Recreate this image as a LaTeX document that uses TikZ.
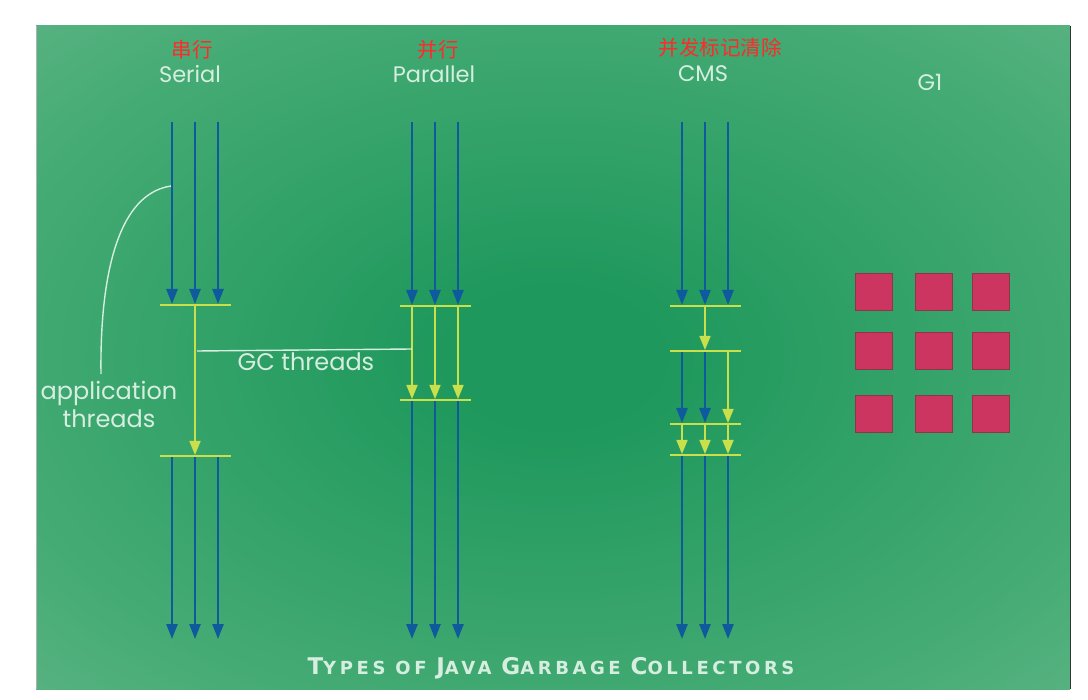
\documentclass[tikz,border=0pt]{standalone}
\usepackage{fontspec}
\setmainfont{Poppins}
\newfontfamily\cjk{Noto Sans CJK SC}
\newfontfamily\capsfont[LetterSpace=20]{DejaVu Sans}
\usetikzlibrary{arrows.meta}
\definecolor{bgin}{HTML}{1E985C}
\definecolor{bgmid}{HTML}{45AB74}
\definecolor{bgout}{HTML}{65B88B}
\definecolor{appblue}{HTML}{0E5A9C}
\definecolor{gcyel}{HTML}{C9E04C}
\definecolor{lbl}{HTML}{D6EEDF}
\definecolor{sq}{HTML}{CC3560}
\definecolor{sqb}{HTML}{8E3548}
\definecolor{cnred}{HTML}{FF2A2A}
\pgfdeclareradialshading{bgshade}{\pgfpoint{0bp}{0bp}}{color(0bp)=(bgin); color(5bp)=(bgin); color(28bp)=(bgmid); color(42bp)=(bgout); color(71bp)=(bgout)}
\tikzset{
  appth/.style={draw=appblue, line width=2.4pt, -{Triangle[width=11pt,length=15pt]}},
  gcth/.style={draw=gcyel, line width=1.6pt, -{Triangle[width=11pt,length=14pt]}},
  gcbar/.style={draw=gcyel, line width=1.8pt},
  title/.style={text=lbl, font=\fontsize{22.5}{22.5}\selectfont},
  cn/.style={text=cnred, font=\cjk\fontsize{20.5}{20.5}\selectfont},
  note/.style={text=lbl, font=\fontsize{24}{28}\selectfont, align=center},
  region/.style={draw=sqb, line width=1pt, fill=sq, minimum width=37pt, minimum height=37pt, inner sep=0pt},
  pointer/.style={draw=lbl, line width=1.4pt}
}
\begin{document}
\begin{tikzpicture}[x=1pt,y=-1pt]
\useasboundingbox (0,0) rectangle (1088,700);
\fill[white] (0,0) rectangle (1088,700);
\shade[shading=bgshade] (36,26) rectangle (1070,689);
\draw[black!80, line width=1pt] (1070,26) -- (1070,689);
\draw[gray!60, line width=0.8pt] (36,26) -- (36,689);

% titles
\node[cn] (cnserial) at (192,50) {串行};
\node[cn] (cnpar) at (438,50) {并行};
\node[cn] (cncms) at (720,48) {并发标记清除};
\node[title] (serial) at (190,74) {Serial};
\node[title] (parallel) at (434,74) {Parallel};
\node[title] (cms) at (703,74) {CMS};
\node[title] (g1) at (930,82) {G1};

% ---------- Serial ----------
\foreach \x/\n in {172/a,195/b,218/c}{
  \coordinate (s\n0) at (\x,122);
  \coordinate (s\n1) at (\x,304);
  \coordinate (s\n2) at (\x,456);
  \coordinate (s\n3) at (\x,639);
  \draw[appth] (s\n0) -- (s\n1);
  \draw[appth] (s\n2) -- (s\n3);
}
\coordinate (sbar1l) at (160,305); \coordinate (sbar1r) at (231,305);
\coordinate (sbar2l) at (160,456); \coordinate (sbar2r) at (231,456);
\coordinate (sgc1) at (195,305); \coordinate (sgc2) at (195,455);
\draw[gcbar] (sbar1l) -- (sbar1r);
\draw[gcbar] (sbar2l) -- (sbar2r);
\draw[gcth] (sgc1) -- (sgc2);

% ---------- Parallel ----------
\foreach \x/\n in {412/a,435/b,458/c}{
  \coordinate (p\n0) at (\x,122);
  \coordinate (p\n1) at (\x,305);
  \coordinate (p\n2) at (\x,399);
  \coordinate (p\n3) at (\x,639);
  \draw[appth] (p\n0) -- (p\n1);
  \draw[gcth] (p\n1) -- (p\n2);
  \draw[appth] (p\n2) -- (p\n3);
}
\coordinate (pbar1l) at (400,306); \coordinate (pbar1r) at (471,306);
\coordinate (pbar2l) at (400,400); \coordinate (pbar2r) at (471,400);
\draw[gcbar] (pbar1l) -- (pbar1r);
\draw[gcbar] (pbar2l) -- (pbar2r);

% ---------- CMS ----------
\foreach \x/\n in {682/a,705/b,728/c}{
  \coordinate (c\n0) at (\x,122);
  \coordinate (c\n1) at (\x,305);
  \coordinate (c\n2) at (\x,350);
  \coordinate (c\n3) at (\x,423);
  \coordinate (c\n4) at (\x,454);
  \coordinate (c\n5) at (\x,639);
  \draw[appth] (c\n0) -- (c\n1);
  \draw[gcth] (c\n3) -- (c\n4);
  \draw[appth] (c\n4) -- (c\n5);
}
\draw[gcth] (cb1) -- (cb2);
\draw[appth] (ca2) -- (ca3);
\draw[appth] (cb2) -- (cb3);
\draw[gcth] (cc2) -- (cc3);
\foreach \y/\k in {306/1,351/2,424/3,455/4}{
  \coordinate (cbar\k l) at (670,\y); \coordinate (cbar\k r) at (741,\y);
  \draw[gcbar] (cbar\k l) -- (cbar\k r);
}

% ---------- annotations ----------
\coordinate (gcl) at (197,351);
\coordinate (gcr) at (412,349);
\draw[pointer] (gcl) -- (gcr);
\node[note] (gclabel) at (306,362) {GC threads};
\coordinate (apps) at (171,186);
\coordinate (appe) at (101,374);
\draw[pointer] (apps) .. controls (110,195) and (100,300) .. (appe);
\node[note] (applabel) at (109,404) {application\\threads};

% ---------- G1 regions ----------
\foreach \c/\x in {1/874,2/934,3/991}{
  \foreach \r/\y in {1/292,2/351,3/414}{
    \node[region] (g\r\c) at (\x,\y) {};
  }
}

% ---------- caption ----------
\node[text=lbl, font=\capsfont\bfseries] (caption) at (551,668)
 {\fontsize{23}{23}\selectfont T\fontsize{18}{18}\selectfont YPES OF
  \fontsize{23}{23}\selectfont J\fontsize{18}{18}\selectfont AVA
  \fontsize{23}{23}\selectfont G\fontsize{18}{18}\selectfont ARBAGE
  \fontsize{23}{23}\selectfont C\fontsize{18}{18}\selectfont OLLECTORS};
\end{tikzpicture}
\end{document}
